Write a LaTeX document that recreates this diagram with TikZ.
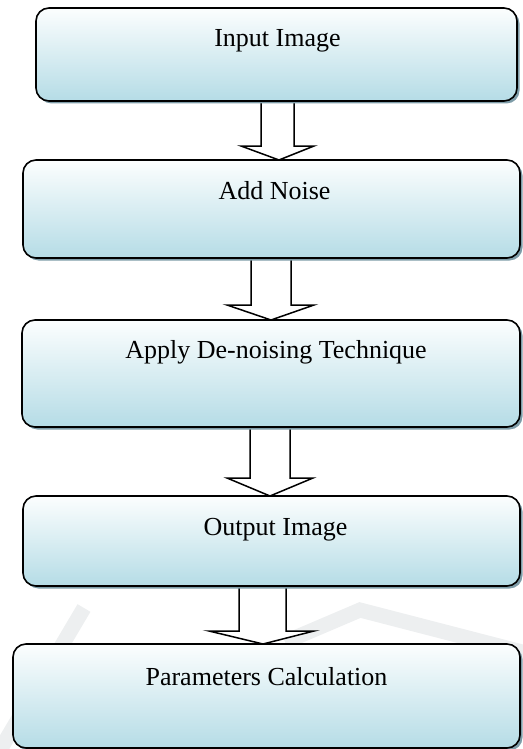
\documentclass[tikz,border=0pt]{standalone}
\usepackage{fontspec}
\setmainfont{Liberation Serif}
\usetikzlibrary{shadows,backgrounds}

\definecolor{boxtop}{HTML}{FCFEFE}
\definecolor{boxmid}{HTML}{E4F2F6}
\definecolor{boxbot}{HTML}{B5DCE6}
\definecolor{boxshadow}{HTML}{7E9CA8}
\definecolor{markgray}{HTML}{EDEFF0}

\tikzset{
  stagebox/.style={
    draw=black, line width=1.6pt, rounded corners=13pt,
    inner sep=0pt, outer sep=0pt, anchor=north west,
    top color=boxtop, middle color=boxmid, bottom color=boxbot,
    drop shadow={shadow xshift=2.5pt, shadow yshift=-2.5pt,
                 fill=boxshadow, opacity=1}
  },
  stagetext/.style={anchor=base, inner sep=0pt,
    font=\fontsize{26}{30}\selectfont},
  blockarr/.style={draw=black, line width=1.5pt, fill=white, line join=miter},
  wmark/.style={draw=markgray, line width=15pt}
}

% hollow block arrow: #1 source, #2 target, #3/#4 shaft edges,
% #5/#6 head edges, #7 row of the head, #8 x of the tip
\newcommand\blockarrow[8]{%
  \draw[blockarr] (#3,0 |- #1.south) -- (#3,#7) -- (#5,#7)
    -- (#8,0 |- #2.north) -- (#6,#7) -- (#4,#7) -- (#4,0 |- #1.south);
}

\begin{document}
\begin{tikzpicture}[x=1pt, y=-1pt]
\useasboundingbox (0,0) rectangle (522,749);

% stages
\node[stagebox, minimum width=481pt, minimum height=93pt,
      label={[stagetext, name=t1, yshift=-39pt, xshift=1pt]north:Input Image}]
      (b1) at (36,8) {};
\node[stagebox, minimum width=497pt, minimum height=98pt,
      label={[stagetext, name=t2, yshift=-39pt, xshift=3pt]north:Add Noise}]
      (b2) at (23,160) {};
\node[stagebox, minimum width=498pt, minimum height=107pt,
      label={[stagetext, name=t3, yshift=-38pt, xshift=5pt]north:Apply De-noising Technique}]
      (b3) at (22,320) {};
\node[stagebox, minimum width=497pt, minimum height=90pt,
      label={[stagetext, name=t4, yshift=-39pt, xshift=4pt]north:Output Image}]
      (b4) at (23,496) {};
\node[stagebox, minimum width=507pt, minimum height=104pt,
      label={[stagetext, name=t5, yshift=-41pt]north:Parameters Calculation}]
      (b5) at (13,644) {};

\begin{scope}[on background layer]
  % faint background mark
  \draw[wmark] (84,608) -- (0,750);
  \draw[wmark] (285,642) -- (360,610) -- (530,654);

  % connectors, kept beneath the stage boxes
  \blockarrow{b1}{b2}{261}{294}{241}{314}{146}{279}
  \blockarrow{b2}{b3}{251}{291}{227}{314}{305}{271}
  \blockarrow{b3}{b4}{250}{290}{227}{313}{478}{270}
  \blockarrow{b4}{b5}{239}{286}{209}{314}{631}{263}
\end{scope}
\end{tikzpicture}
\end{document}
